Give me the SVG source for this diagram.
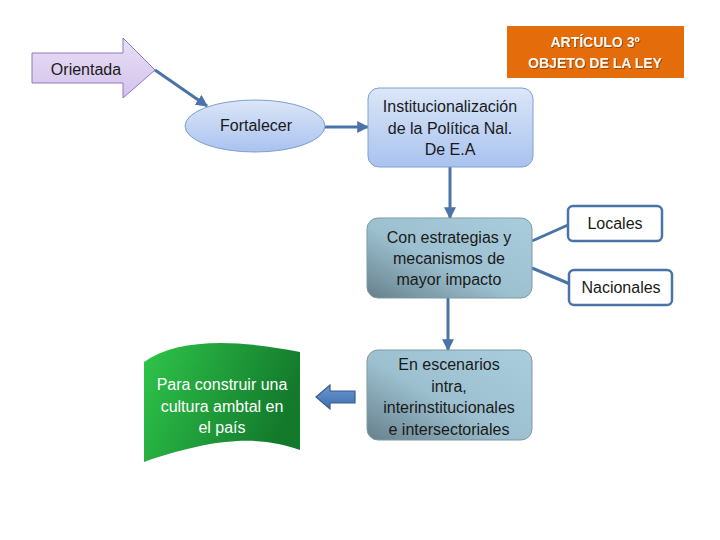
<svg xmlns="http://www.w3.org/2000/svg" width="720" height="540" viewBox="0 0 720 540">
<defs>
<linearGradient id="gLav" x1="0" y1="0" x2="0" y2="1">
<stop offset="0" stop-color="#e8dff5"/><stop offset="1" stop-color="#d3c3ec"/>
</linearGradient>
<linearGradient id="gBlue" x1="0" y1="0" x2="0" y2="1">
<stop offset="0" stop-color="#dbe6f8"/><stop offset="1" stop-color="#a9c3ef"/>
</linearGradient>
<linearGradient id="gTeal" x1="1" y1="0" x2="0" y2="1">
<stop offset="0" stop-color="#a9cddc"/><stop offset="0.55" stop-color="#9cc0cf"/><stop offset="1" stop-color="#66808c"/>
</linearGradient>
<linearGradient id="gGreen" x1="0" y1="0" x2="1" y2="0.3">
<stop offset="0" stop-color="#2fc54a"/><stop offset="1" stop-color="#137a2c"/>
</linearGradient>
<linearGradient id="gArrow" x1="0" y1="0" x2="0" y2="1">
<stop offset="0" stop-color="#6c98d2"/><stop offset="1" stop-color="#3f6fb0"/>
</linearGradient>
<marker id="ah" viewBox="0 0 10 10" refX="9" refY="5" markerWidth="4" markerHeight="4" orient="auto" markerUnits="strokeWidth">
<path d="M0,0 L10,5 L0,10 z" fill="#4a73a8"/>
</marker>
<filter id="sh" x="-10%" y="-10%" width="120%" height="130%">
<feDropShadow dx="1" dy="1" stdDeviation="0.6" flood-color="#7a3a00" flood-opacity="0.7"/>
</filter>
</defs>
<style>
text{font-family:"Liberation Sans",Arial,sans-serif;font-size:16px;fill:#1a1a1a;text-anchor:middle}
.w{fill:#ffffff}
.b{font-weight:bold;font-size:14px;fill:#fff6ee}
.conn{stroke:#4a73a8;stroke-width:3;fill:none}
.box{stroke:#7f9fd0;stroke-width:1}
.lbl{fill:#ffffff;stroke:#4a73a8;stroke-width:2.5}
</style>

<g id="connectors">
<line class="conn" x1="155" y1="70" x2="207" y2="106" marker-end="url(#ah)"/>
<line class="conn" x1="325" y1="127" x2="368" y2="127" marker-end="url(#ah)"/>
<line class="conn" x1="450" y1="167" x2="450" y2="218" marker-end="url(#ah)"/>
<line class="conn" x1="448" y1="298" x2="448" y2="350" marker-end="url(#ah)"/>
<line class="conn" x1="532" y1="241" x2="568" y2="225"/>
<line class="conn" x1="532" y1="268" x2="570" y2="284"/>
<path id="leftArrow" d="M316,397 L330,385 L330,391 L355,391 L355,403 L330,403 L330,409 Z" fill="url(#gArrow)" stroke="#385d8a" stroke-width="1.2"/>
</g>

<g id="articulo">
<rect x="507" y="26" width="177" height="52" fill="#e46c0a"/>
<text class="b" x="595" y="47" filter="url(#sh)">ARTÍCULO 3º</text>
<text class="b" x="595" y="68" filter="url(#sh)">OBJETO DE LA LEY</text>
</g>

<g id="orientada">
<path d="M32,53 L123,53 L123,38 L155,70 L123,98 L123,83 L32,83 Z" fill="url(#gLav)" stroke="#8f78c0" stroke-width="1"/>
<text x="86" y="75">Orientada</text>
</g>

<g id="fortalecer">
<ellipse cx="255" cy="126" rx="70" ry="26" fill="url(#gBlue)" class="box"/>
<text x="256" y="131">Fortalecer</text>
</g>

<g id="institucionalizacion">
<rect x="368" y="88" width="165" height="79" rx="11" fill="url(#gBlue)" class="box"/>
<text x="450" y="112">Institucionalización</text>
<text x="450" y="134">de la Política Nal.</text>
<text x="450" y="155">De E.A</text>
</g>

<g id="estrategias">
<rect x="367" y="218" width="165" height="80" rx="11" fill="url(#gTeal)" stroke="#7d99a6" stroke-width="1"/>
<text x="449" y="243">Con estrategias y</text>
<text x="449" y="264">mecanismos de</text>
<text x="449" y="285">mayor impacto</text>
</g>

<g id="locales">
<rect x="568" y="206" width="94" height="35" rx="5" class="lbl"/>
<text x="615" y="229">Locales</text>
</g>

<g id="nacionales">
<rect x="569" y="270" width="103" height="35" rx="5" class="lbl"/>
<text x="621" y="293">Nacionales</text>
</g>

<g id="escenarios">
<rect x="367" y="350" width="165" height="90" rx="11" fill="url(#gTeal)" stroke="#7d99a6" stroke-width="1"/>
<text x="449" y="370">En escenarios</text>
<text x="449" y="392">intra,</text>
<text x="449" y="413">interinstitucionales</text>
<text x="449" y="435">e intersectoriales</text>
</g>

<g id="cultura">
<path d="M144,362 C175,340 230,338 300,352 L300,450 C265,438 225,434 144,462 Z" fill="url(#gGreen)"/>
<text class="w" x="222" y="390">Para construir una</text>
<text class="w" x="222" y="412">cultura ambtal en</text>
<text class="w" x="222" y="433">el país</text>
</g>
</svg>
